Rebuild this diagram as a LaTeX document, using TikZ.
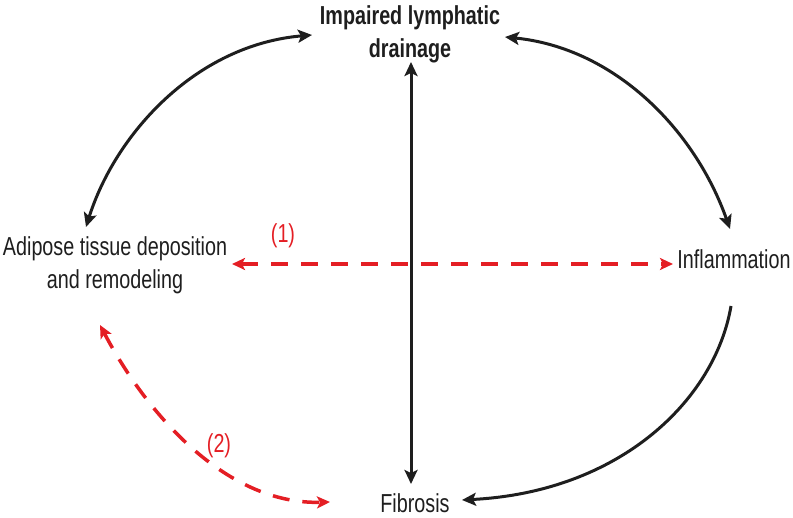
\documentclass[tikz,border=0pt]{standalone}
\usepackage{fontspec}
\setmainfont{Liberation Sans}[FakeStretch=0.76]
\usetikzlibrary{arrows.meta}
\definecolor{dashred}{RGB}{228,30,36}
\definecolor{inkblack}{RGB}{30,30,30}
\begin{document}
\begin{tikzpicture}[x=1pt, y=-1pt,
  label text/.style={inner sep=0pt, text=inkblack, font=\fontsize{26}{33}\selectfont},
  black link/.style={draw=inkblack, line width=3pt, {Stealth[length=14pt,width=13pt,inset=3pt]}-{Stealth[length=14pt,width=13pt,inset=3pt]}},
  red link/.style={draw=dashred, line width=3.5pt, dash pattern=on 17pt off 13pt, {Stealth[length=13pt,width=12pt,inset=3pt]}-{Stealth[length=13pt,width=12pt,inset=3pt]}},
  red tag/.style={inner sep=0pt, text=dashred, font=\fontsize{26}{30}\selectfont}]
  \useasboundingbox (0, 0) rectangle (793, 518);

  \node[label text, anchor=north, align=center, font=\fontsize{26}{33}\selectfont\bfseries]
    (drainage) at (410, 5) {Impaired lymphatic\\drainage};
  \node[label text, anchor=north, align=center]
    (adipose) at (115, 236) {Adipose tissue deposition\\and remodeling};
  \node[label text, anchor=base] (inflam) at (734, 269) {Inflammation};
  \node[label text, anchor=base] (fibrosis) at (415, 513) {Fibrosis};

  \coordinate (drainL) at (312, 35);
  \coordinate (drainR) at (505, 37);
  \coordinate (drainB) at (411, 62);
  \coordinate (adiposeT) at (86, 227);
  \coordinate (adiposeR) at (232, 264);
  \coordinate (adiposeB) at (100, 325);
  \coordinate (inflamT) at (730, 229);
  \coordinate (inflamL) at (673, 264);
  \coordinate (inflamB) at (731, 306);
  \coordinate (fibrosisT) at (411, 484);
  \coordinate (fibrosisL) at (330, 502);
  \coordinate (fibrosisR) at (462, 500);

  \draw[black link] (drainL) .. controls (195, 45) and (115, 135) .. (adiposeT);
  \draw[black link] (drainR) .. controls (615, 48) and (695, 130) .. (inflamT);
  \draw[black link] (drainB) -- (fibrosisT);
  \draw[draw=inkblack, line width=3pt, -{Stealth[length=14pt,width=13pt,inset=3pt]}]
    (inflamB) .. controls (715, 400) and (620, 492) .. (fibrosisR);

  \draw[red link] (adiposeR) -- (inflamL);
  \draw[red link] (adiposeB) .. controls (150, 420) and (230, 505) .. (fibrosisL);
  \node[red tag] (tag1) at (283, 236) {(1)};
  \node[red tag] (tag2) at (219, 446) {(2)};
\end{tikzpicture}
\end{document}
